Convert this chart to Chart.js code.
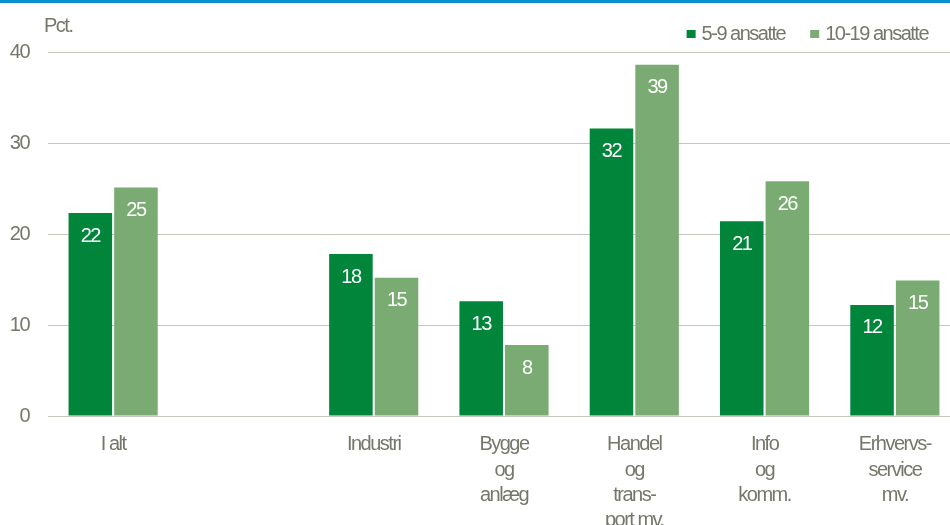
<!DOCTYPE html>
<html>
<head>
<meta charset="utf-8">
<script src="https://cdn.jsdelivr.net/npm/chart.js@4"></script>
<style>
  html, body { margin: 0; padding: 0; background: #fff; overflow: hidden; }
  #wrap { position: relative; width: 962px; height: 525px; }
  #topline { position: absolute; left: 0; top: 0; width: 950px; height: 3px; background: #0a8fd1; }
</style>
</head>
<body>
<div id="wrap">
  <canvas id="chart" width="962" height="525"></canvas>
  <div id="topline"></div>
</div>
<script>
// Data
const categories = [
  "I alt",
  "",
  "Industri",
  ["Bygge", "og", "anlæg"],
  ["Handel", "og", "trans-", "port mv."],
  ["Info", "og", "komm."],
  ["Erhvervs-", "service", "mv."]
];
const small = [22.3, null, 17.8, 12.6, 31.6, 21.4, 12.2];   // 5-9 ansatte
const medium = [25.1, null, 15.2, 7.8, 38.6, 25.8, 14.9];  // 10-19 ansatte
const yTicks = [0, 10, 20, 30, 40];

const FONT = "'Liberation Sans Narrow', 'Arial Narrow', 'Liberation Sans', sans-serif";
const TEXT = "#76766a";
const DARK = "#00853b";
const LIGHT = "#79ab72";
const SQUEEZE = "-1.5px";  // no narrow face installed, tighten the letters instead

const squeeze = {
  id: "squeeze",
  beforeUpdate(chart) { chart.ctx.letterSpacing = SQUEEZE; },
  beforeLayout(chart) { chart.ctx.letterSpacing = SQUEEZE; },
  beforeDraw(chart) { chart.ctx.letterSpacing = SQUEEZE; }
};

// values written inside the top of each bar
const barValues = {
  id: "barValues",
  afterDatasetsDraw(chart) {
    const ctx = chart.ctx;
    ctx.save();
    ctx.letterSpacing = SQUEEZE;
    ctx.font = "20px " + FONT;
    ctx.fillStyle = "#ffffff";
    ctx.textAlign = "center";
    ctx.textBaseline = "middle";
    chart.data.datasets.forEach((ds, i) => {
      chart.getDatasetMeta(i).data.forEach((bar, j) => {
        const v = ds.data[j];
        if (v == null) return;
        ctx.fillText(String(Math.round(v)), bar.x, bar.y + 23);
      });
    });
    ctx.restore();
  }
};

// unit label and legend in the top strip
const header = {
  id: "header",
  afterDraw(chart) {
    const ctx = chart.ctx;
    ctx.save();
    ctx.letterSpacing = SQUEEZE;
    ctx.font = "20px " + FONT;
    ctx.fillStyle = TEXT;
    ctx.textBaseline = "middle";
    ctx.textAlign = "left";
    ctx.fillText("Pct.", 44, 26);

    let right = 928;
    const items = chart.data.datasets.slice().reverse();
    items.forEach(ds => {
      const w = ctx.measureText(ds.label).width;
      const tx = right - w;
      ctx.fillStyle = ds.backgroundColor;
      ctx.fillRect(tx - 15, 30, 9, 8);
      ctx.fillStyle = TEXT;
      ctx.fillText(ds.label, tx, 34);
      right = tx - 15 - 25;
    });
    ctx.restore();
  }
};

new Chart(document.getElementById("chart"), {
  type: "bar",
  data: {
    labels: categories,
    datasets: [
      { label: "5-9 ansatte", data: small, backgroundColor: DARK },
      { label: "10-19 ansatte", data: medium, backgroundColor: LIGHT }
    ]
  },
  options: {
    responsive: false,
    animation: false,
    categoryPercentage: 0.70,
    barPercentage: 0.955,
    layout: { padding: { top: 52, right: 2, left: 0, bottom: 0 } },
    plugins: {
      legend: { display: false },
      tooltip: { enabled: false }
    },
    scales: {
      x: {
        grid: { display: false },
        border: { display: false },
        ticks: {
          color: TEXT,
          font: { family: FONT, size: 20, lineHeight: 1.27 },
          padding: 8,
          maxRotation: 0,
          autoSkip: false
        },
        afterFit(scale) { scale.height = 109; }
      },
      y: {
        min: 0,
        max: 40,
        afterBuildTicks(scale) { scale.ticks = yTicks.map(v => ({ value: v })); },
        grid: { color: "#c6c6ba", lineWidth: 1, drawTicks: false },
        border: { display: false },
        ticks: {
          color: TEXT,
          font: { family: FONT, size: 20 },
          padding: 19
        },
        afterFit(scale) { scale.width = 48; }
      }
    }
  },
  plugins: [squeeze, barValues, header]
});
</script>
</body>
</html>
